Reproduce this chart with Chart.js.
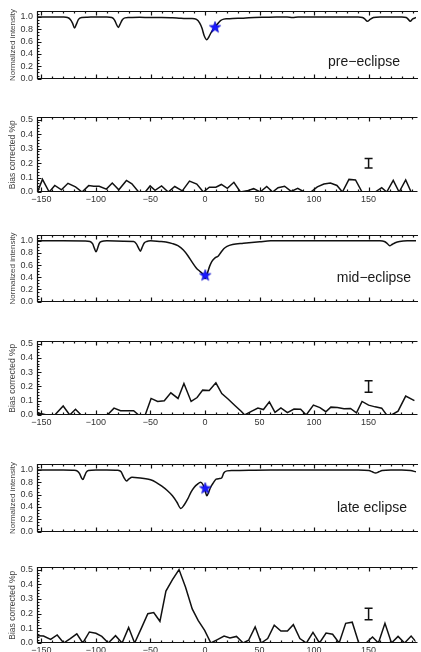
<!DOCTYPE html>
<html>
<head>
<meta charset="utf-8">
<script src="https://cdn.jsdelivr.net/npm/chart.js@4.4.1/dist/chart.umd.min.js"></script>
<style>
    body { margin: 0; background: #fff; width: 421px; height: 652px; overflow: hidden; position: relative; }
    .panel { position: absolute; left: 0; width: 421px; }
</style>
</head>
<body>
<div class="panel" style="top:2px;height:86px"><canvas id="chartPre"></canvas></div>
<div class="panel" style="top:108px;height:98px"><canvas id="chartPrePol"></canvas></div>
<div class="panel" style="top:226px;height:85px"><canvas id="chartMid"></canvas></div>
<div class="panel" style="top:332px;height:97px"><canvas id="chartMidPol"></canvas></div>
<div class="panel" style="top:455px;height:86px"><canvas id="chartLate"></canvas></div>
<div class="panel" style="top:558px;height:99px"><canvas id="chartLatePol"></canvas></div>
<script>
// ticks
const xTicks = [-150, -100, -50, 0, 50, 100, 150];
const intensityTicks = [0, 0.2, 0.4, 0.6, 0.8, 1.0];
const polTicks = [0, 0.1, 0.2, 0.3, 0.4, 0.5];

// pre-eclipse
const preX = [-154,-140,-130,-126,-123.5,-121.5,-119.6,-118,-116,-113,-108,-100,-90,-85.5,-83,-81.5,-79.5,-78,-76,-73.5,-70,-60,-50,-40,-30,-24,-18,-12,-8,-5,-3,-1,1.5,3.5,5.5,8,11,14,17,20,25,35,45,55,65,75,80,85,90,100,110,120,130,140,144,146,148.5,151,154,160,170,180,184,186,187.7,190,193];
const preI = [1.0,1.0,0.998,0.99,0.96,0.9,0.82,0.88,0.96,0.99,0.995,1.0,1.0,0.99,0.95,0.89,0.83,0.88,0.95,0.985,0.99,0.995,0.99,0.99,0.985,0.98,0.975,0.975,0.96,0.9,0.82,0.7,0.63,0.68,0.75,0.81,0.88,0.94,0.965,0.97,0.975,0.98,0.99,0.995,1.0,1.0,0.99,1.0,1.0,1.0,1.0,1.0,1.0,1.0,0.99,0.97,0.93,0.96,0.99,1.0,1.0,1.0,0.99,0.96,0.93,0.97,0.99];
const prePolX = [-153.6,-149,-142.8,-137.7,-131.6,-125.6,-118.7,-112.7,-106.6,-102,-97,-90.4,-85,-79,-72,-67,-60.8,-54.8,-50.3,-45.8,-39.8,-33.7,-27.7,-20.8,-14.2,-7.5,-1.5,4,10,15,20.5,26.5,32.5,38.5,44.6,50.6,56.6,62,67,73,79,85,91,97,103,109,115,121,126,132,138,144,150,156,162,166.6,172.6,178,184,189,194];
const prePol = [0,0.087,0,0.045,0.015,0.06,0.035,0,0.044,0.04,0.04,0.02,0.062,0.015,0.08,0.056,0,0,0.042,0.012,0.042,0,0.038,0.008,0.075,0.055,0,0.033,0.033,0.052,0.025,0.067,0,0.008,0.023,0,0.038,0,0.03,0.04,0.004,0.025,0,0,0.035,0.055,0.062,0.045,0,0.087,0.083,0,0,0,0.03,0,0.08,0,0.083,0,0];
const preStarX = [9];
const preStarY = [0.83];
const preErrX = [150, 150];
const preErrY = [0.165, 0.232];

// mid-eclipse
const midX = [-154,-130,-110,-105.5,-103,-101.5,-100,-98.5,-97,-95,-90,-75,-65.5,-63,-61,-59.3,-58,-56,-53.5,-50,-42,-36,-30,-25,-20,-16,-12,-8,-5,-2,0,2,4,6,9,12,14,17,20,25,35,50,60,70,80,100,120,140,160,164,166.5,169,171,174,178,185,193];
const midI = [1.0,1.0,0.998,0.99,0.95,0.88,0.82,0.88,0.96,0.99,1.0,0.995,0.99,0.95,0.88,0.83,0.88,0.96,0.99,1.0,0.99,0.98,0.955,0.92,0.85,0.76,0.65,0.55,0.5,0.45,0.38,0.47,0.58,0.66,0.72,0.75,0.8,0.87,0.91,0.94,0.96,0.985,1.0,1.0,1.0,1.0,1.0,1.0,1.0,0.99,0.96,0.92,0.94,0.97,0.99,1.0,1.0];
const midPolX = [-153.6,-149.7,-145,-137.7,-130,-124,-118.7,-113.5,-89.5,-83.4,-77.4,-71.4,-65.4,-60.8,-54.8,-49.4,-43.4,-37.3,-31.3,-24.7,-19.3,-12.7,-7.2,-2.1,3.9,10,15.4,21.4,27.4,33.4,36.4,42.5,48.5,53.6,59,64.2,69.6,75.6,81.6,87.7,92.8,99.4,105.4,110.8,115.4,121.4,127.4,133.4,138.9,144,150,156,162,166.6,171,177,184,192];
const midPol = [0.012,0.008,0,0,0.063,0,0.04,0,0,0.048,0.03,0.03,0.03,0,0,0.116,0.095,0.1,0.155,0.116,0.22,0.095,0.122,0.174,0.172,0.225,0.15,0.11,0.067,0.025,0,0.025,0.048,0.038,0.092,0.019,0.05,0.017,0.042,0.04,0,0.069,0.052,0.023,0.055,0.052,0.044,0.046,0.015,0.095,0.069,0.057,0.048,0,0,0.027,0.132,0.1];
const midStarX = [0];
const midStarY = [0.43];
const midErrX = [150, 150];
const midErrY = [0.16, 0.24];

// late eclipse
const lateX = [-154,-130,-120,-117,-115,-113.5,-112,-110.5,-109,-107,-100,-90,-80,-77,-74.5,-72,-70,-67,-62,-56,-50,-45,-40,-35,-30,-26,-22.3,-19,-16,-13,-10,-7,-4.2,-2,0,1.5,3,5,7,10,13,15,17,20,25,40,60,80,100,120,140,150,153,156,159,162,170,180,188,193];
const lateI = [1.0,1.0,0.995,0.98,0.94,0.88,0.845,0.9,0.96,0.99,1.0,1.0,0.995,0.97,0.88,0.82,0.85,0.88,0.875,0.86,0.84,0.8,0.74,0.67,0.58,0.48,0.375,0.44,0.53,0.64,0.72,0.77,0.8,0.76,0.66,0.58,0.63,0.72,0.78,0.85,0.86,0.87,0.95,0.985,0.99,0.995,1.0,1.0,1.0,1.0,1.0,0.99,0.97,0.95,0.97,0.99,1.0,1.0,0.99,0.97];
const latePolX = [-153.6,-148,-141.5,-135.5,-129.5,-123.5,-117.5,-112,-106,-100,-94.6,-88.6,-82,-76,-70,-64.5,-58.4,-52.4,-47,-41.3,-35.8,-29.8,-23.8,-17.8,-11.7,-6.3,-0.3,5.4,11.4,17.5,22.9,28.9,35,40,46,51.5,57.5,63.5,69.6,75.6,81,87,93,99,105,111,117,123,129,135,141,147.6,153.6,159,165,171,177,183,189,193.7];
const latePol = [0.05,0.047,0.025,0.055,0,0.03,0.062,0,0.075,0.066,0.045,0,0.05,0,0.105,0,0.1,0.2,0.208,0.148,0.354,0.432,0.5,0.38,0.232,0.154,0.086,0,0.023,0.047,0.035,0.045,0,0.019,0.11,0,0.03,0.121,0.082,0.082,0.125,0.03,0,0.072,0,0.068,0.06,0,0.134,0.142,0,0,0.041,0,0.134,0,0.045,0,0.047,0.006];
const lateStarX = [0];
const lateStarY = [0.7];
const lateErrX = [150, 150];
const lateErrY = [0.158, 0.236];

const FONT = '"Liberation Sans", Arial, Helvetica, sans-serif';

function pares(xs, ys) {
    return xs.map((x, i) => ({ x, y: ys[i] }));
}

function estrella(r, color) {
    const c = document.createElement('canvas');
    c.width = c.height = Math.ceil(2 * r + 2);
    const g = c.getContext('2d');
    const cx = c.width / 2, cy = c.height / 2;
    g.beginPath();
    for (let i = 0; i < 10; i++) {
        const rr = i % 2 ? r * 0.42 : r;
        const ang = -Math.PI / 2 + i * Math.PI / 5;
        g.lineTo(cx + rr * Math.cos(ang), cy + rr * Math.sin(ang));
    }
    g.closePath();
    g.fillStyle = color;
    g.fill();
    g.strokeStyle = '#0000c0';
    g.lineWidth = 0.6;
    g.stroke();
    return c;
}

// frame with inward ticks + panel label
const marcoPlugin = {
    id: 'marco',
    afterDraw(chart, args, opts) {
        const { ctx, chartArea: a } = chart;
        const xs = chart.scales.x, ys = chart.scales.y;
        const L = Math.round(a.left) + 0.5;
        const T = Math.round(a.top) + 0.5;
        const B = Math.round(a.bottom) - 0.5;
        ctx.save();
        ctx.strokeStyle = '#111';
        ctx.lineWidth = 1.2;
        ctx.beginPath();
        ctx.moveTo(a.right + 2, T); ctx.lineTo(L, T); ctx.lineTo(L, B); ctx.lineTo(a.right + 2, B);
        for (let i = -15; i * 10 <= xs.max; i++) {
            const px = Math.round(xs.getPixelForValue(i * 10)) + 0.5;
            const len = i % 5 === 0 ? 4 : 2;
            ctx.moveTo(px, T); ctx.lineTo(px, T + len);
            ctx.moveTo(px, B); ctx.lineTo(px, B - len);
        }
        for (let i = 0; i * opts.yMinor <= ys.max + 1e-9; i++) {
            const py = Math.round(ys.getPixelForValue(i * opts.yMinor)) + 0.5;
            const len = i % opts.perMajor === 0 ? 4 : 2;
            ctx.moveTo(L, py); ctx.lineTo(L + len, py);
        }
        ctx.stroke();
        if (opts.text) {
            ctx.fillStyle = '#1a1a1a';
            ctx.font = '14px ' + FONT;
            ctx.textAlign = 'center';
            ctx.textBaseline = 'middle';
            ctx.fillText(opts.text, opts.tx, opts.ty);
        }
        ctx.restore();
    }
};

function renderPanel(id, cfg) {
    const canvas = document.getElementById(id);
    const datasets = [];
    if (cfg.star) {
        datasets.push({
            data: pares(cfg.star[0], cfg.star[1]),
            showLine: false,
            pointStyle: estrella(6, '#1a1aff'),
            order: 0
        });
    }
    if (cfg.err) {
        datasets.push({
            data: pares(cfg.err[0], cfg.err[1]),
            borderColor: '#111',
            borderWidth: 1.5,
            pointStyle: 'line',
            pointRadius: 4,
            pointBorderWidth: 1.5,
            pointBorderColor: '#111',
            order: 1
        });
    }
    datasets.push({
        data: pares(cfg.x, cfg.y),
        borderColor: '#111',
        borderWidth: 1.5,
        pointRadius: 0,
        cubicInterpolationMode: cfg.smooth ? 'monotone' : 'default',
        order: 2
    });

    return new Chart(canvas, {
        type: 'line',
        data: { datasets },
        options: {
            responsive: true,
            maintainAspectRatio: false,
            animation: false,
            events: [],
            layout: { padding: { top: 2, right: 0, bottom: 0, left: 0 } },
            plugins: {
                legend: { display: false },
                tooltip: { enabled: false },
                marco: { yMinor: cfg.yMinor, perMajor: cfg.perMajor, text: cfg.text, tx: cfg.tx, ty: cfg.ty }
            },
            scales: {
                x: {
                    type: 'linear',
                    min: -154,
                    max: 193,
                    grid: { display: false, drawTicks: false },
                    border: { display: false },
                    afterBuildTicks: s => { s.ticks = xTicks.map(v => ({ value: v })); },
                    afterFit: s => { s.height = cfg.labels ? 14 : 2; },
                    ticks: {
                        display: cfg.labels,
                        maxRotation: 0,
                        autoSkip: false,
                        padding: 2,
                        color: '#333',
                        font: { family: FONT, size: 9 },
                        callback: v => String(v).replace('-', '\u2212')
                    }
                },
                y: {
                    min: 0,
                    max: cfg.ymax,
                    grid: { display: false, drawTicks: false },
                    border: { display: false },
                    afterBuildTicks: s => { s.ticks = cfg.yTicks.map(v => ({ value: v })); },
                    afterFit: s => { s.width = 37; },
                    ticks: {
                        padding: 4,
                        autoSkip: false,
                        color: '#333',
                        font: { family: FONT, size: 9 },
                        callback: v => Number(v).toFixed(1)
                    },
                    title: {
                        display: true,
                        text: cfg.ylabel,
                        color: '#444',
                        padding: { top: 8, bottom: 0 },
                        font: { family: FONT, size: cfg.ylabelSize }
                    }
                }
            }
        },
        plugins: [marcoPlugin]
    });
}

const intensidad = { ymax: 1.09, yTicks: intensityTicks, yMinor: 0.05, perMajor: 4, ylabel: 'Normalized intensity', ylabelSize: 8, labels: false, smooth: true };
const polarizacion = { ymax: 0.515, yTicks: polTicks, yMinor: 0.02, perMajor: 5, ylabel: 'Bias corrected %p', ylabelSize: 8.5, labels: true, smooth: false };

renderPanel('chartPre', { ...intensidad, x: preX, y: preI, star: [preStarX, preStarY], text: 'pre\u2212eclipse', tx: 364, ty: 60 });
renderPanel('chartPrePol', { ...polarizacion, x: prePolX, y: prePol, err: [preErrX, preErrY] });
renderPanel('chartMid', { ...intensidad, x: midX, y: midI, star: [midStarX, midStarY], text: 'mid\u2212eclipse', tx: 374, ty: 52 });
renderPanel('chartMidPol', { ...polarizacion, x: midPolX, y: midPol, err: [midErrX, midErrY] });
renderPanel('chartLate', { ...intensidad, x: lateX, y: lateI, star: [lateStarX, lateStarY], text: 'late eclipse', tx: 372, ty: 53 });
renderPanel('chartLatePol', { ...polarizacion, x: latePolX, y: latePol, err: [lateErrX, lateErrY] });
</script>
</body>
</html>
